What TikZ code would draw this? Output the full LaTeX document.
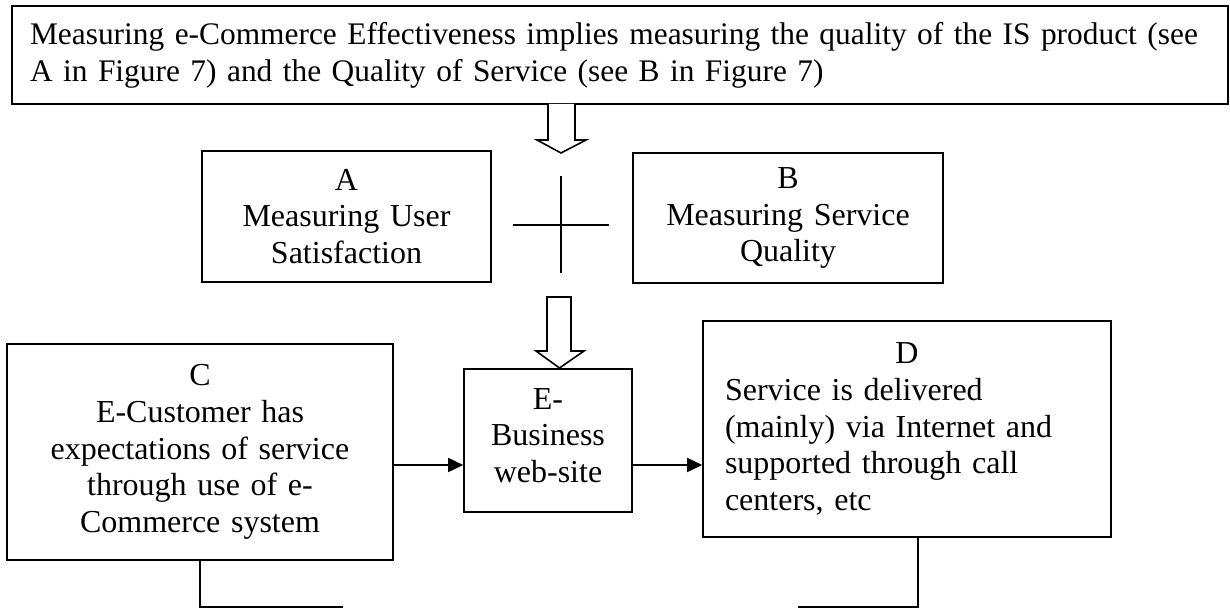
\documentclass[tikz,border=0pt]{standalone}
\usepackage{fontspec}
\setmainfont{Liberation Serif}
\usetikzlibrary{arrows.meta}
\newcommand\bodytext{\fontsize{32pt}{36.8pt}\selectfont}
\newcommand\headtext{\fontsize{31.4pt}{36.8pt}\selectfont}
\begin{document}
\begin{tikzpicture}[x=1pt,y=-1pt,
  box/.style={draw, line width=1.6pt, inner sep=0pt, align=center, font=\bodytext},
  link/.style={line width=1.6pt},
  arr/.style={link, -{Triangle[length=15pt,width=14pt]}},
  hollow/.style={draw, line width=1.6pt, fill=white, line join=miter}]
\useasboundingbox (0,0) rectangle (1230,609);

% heading box
\node[box, align=left, font=\headtext, text width=1180pt, inner xsep=18pt, minimum height=98pt] (top) at (620,55)
  {Measuring e-Commerce Effectiveness implies measuring the quality of the IS product (see\\A in Figure 7) and the Quality of Service (see B in Figure 7)};

% the two measures
\node[box, text width=289pt, minimum height=131pt] (A) at (346.5,216.5)
  {A\\Measuring User\\Satisfaction};
\node[box, text width=310pt, minimum height=130pt] (B) at (788,218)
  {B\\Measuring Service\\Quality};

% plus sign between A and B
\draw[link] (513,225) -- (609,225);
\draw[link] (561,176) -- (561,273);

% process row
\node[box, text width=386pt, minimum height=216pt] (C) at (200,452)
  {C\\E-Customer has\\expectations of service\\through use of e-\\Commerce system};
\node[box, text width=168pt, minimum height=143pt] (E) at (548,440.5)
  {E-\\Business\\web-site\rule[-10pt]{0pt}{10pt}};
\node[box, align=left, text width=364pt, inner xsep=22pt, minimum height=216pt] (D) at (907,429)
  {\centering D\par\raggedright Service is delivered\\(mainly) via Internet and\\supported through call\\centers, etc};

% hollow block arrows
\draw[hollow] (548,104) -- (548,140) -- (537,140) -- (561,153) -- (586,140) -- (575,140) -- (575,104);
\draw[hollow] (547,297) -- (571,297) -- (571,351) -- (584,351) -- (559.5,368) -- (536,351) -- (547,351) -- cycle;

% flow connectors
\coordinate (row) at (0,465);
\draw[arr] (C.east |- row) -- (E.west |- row);
\draw[arr] (E.east |- row) -- (D.west |- row);

% feedback lines at the bottom
\coordinate (cend) at (343,607);
\coordinate (dfoot) at (918,607);
\coordinate (dend) at (798,607);
\draw[link] (C.south) |- (cend);
\draw[link] (D.south -| dfoot) -- (dfoot) -- (dend);
\end{tikzpicture}
\end{document}
